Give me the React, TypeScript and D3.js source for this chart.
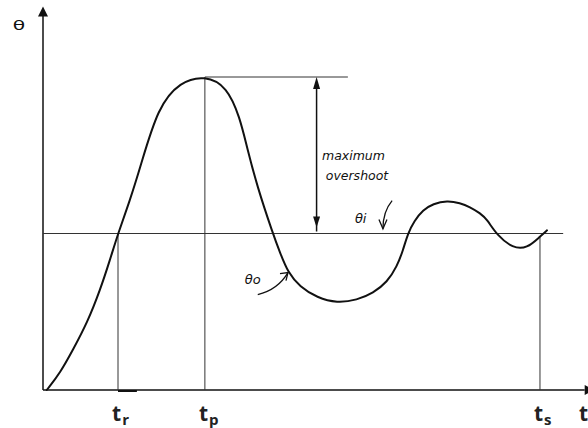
import React from 'react';
import * as d3 from 'd3';

// response curve (time units, theta in units of the step)
const timePoints = [0.07, 0.32, 0.56, 0.82, 1.06, 1.24, 1.39, 1.61, 1.8, 2.13, 2.54, 3.0, 3.41, 3.65, 3.78, 3.97, 4.26, 4.39, 4.54, 4.76, 5.08, 5.45, 5.82, 6.12, 6.38, 6.56, 6.67, 6.76, 6.88, 7.04, 7.23, 7.49, 7.73, 7.91, 8.1, 8.23, 8.41, 8.71, 8.97, 9.21, 9.34];
const responseValues = [0, 0.11, 0.26, 0.43, 0.64, 0.83, 1.0, 1.21, 1.42, 1.81, 1.97, 2.01, 1.94, 1.74, 1.55, 1.3, 1.0, 0.88, 0.75, 0.66, 0.59, 0.555, 0.575, 0.62, 0.69, 0.79, 0.89, 1.0, 1.08, 1.15, 1.19, 1.21, 1.195, 1.17, 1.13, 1.09, 0.99, 0.905, 0.905, 0.98, 1.02];

const markerNames = ['r', 'p', 's'];
const markerTimes = [1.39, 3.0, 9.21];
const markerTops = [1, 2, 0.98];

const steadyValue = 1;
const peakValue = 2;
const steadyEnd = 9.64;
const peakLineEnd = 5.65;
const overshootAt = 5.07;

const W = 588;
const H = 428;

export default function App() {
  const x = d3.scaleLinear().domain([0, 10.1]).range([43, 588]);
  const y = d3.scaleLinear().domain([0, 2]).range([390, 77]);

  const pts: [number, number][] = timePoints.map((t, i) => [t, responseValues[i]]);
  const line = d3.line<[number, number]>()
    .x(d => x(d[0]))
    .y(d => y(d[1]))
    .curve(d3.curveBasis);

  const ink = '#111';
  const thin = '#333';
  const hand = "'DejaVu Sans', sans-serif";
  const label = "'Open Sans', sans-serif";

  const x0 = x(0);
  const y0 = y(0);
  const yTop = y(2.45);
  const xRight = x(10.15);

  const oa = x(overshootAt);

  // curved annotation arrows
  const thetaIArrow = d3.path();
  thetaIArrow.moveTo(x(6.47), y(1.21));
  thetaIArrow.quadraticCurveTo(x(6.3), y(1.14), x(6.3), y(1.03));
  const thetaOArrow = d3.path();
  thetaOArrow.moveTo(x(3.98), y(0.61));
  thetaOArrow.quadraticCurveTo(x(4.35), y(0.64), x(4.54), y(0.75));

  return (
    <div style={{ position: 'fixed', left: 0, top: 0 }}>
      <svg width={W} height={H} style={{ display: 'block', background: '#fff' }}>
        {/* axes */}
        <line x1={x0} y1={y0} x2={x0} y2={yTop + 8} stroke={ink} strokeWidth={1.5} />
        <path d={`M${x0},${yTop} L${x0 - 5},${yTop + 10} L${x0 + 5},${yTop + 10} Z`} fill={ink} />
        <line x1={x0} y1={y0} x2={xRight - 6} y2={y0} stroke={ink} strokeWidth={1.5} />
        <path d={`M${xRight + 4},${y0} L${xRight - 6},${y0 - 5} L${xRight - 6},${y0 + 5} Z`} fill={ink} />
        <text x={19} y={31} fontFamily={hand} fontSize={15} textAnchor="middle" fill={ink}
          transform="translate(19,26) scale(1.35,0.85) translate(-19,-26)">θ</text>

        {/* steady state and peak reference lines */}
        <line x1={x0} y1={y(steadyValue)} x2={x(steadyEnd)} y2={y(steadyValue)} stroke={thin} strokeWidth={1} />
        <line x1={x(markerTimes[1])} y1={y(peakValue)} x2={x(peakLineEnd)} y2={y(peakValue)} stroke={thin} strokeWidth={1} />

        {/* time markers */}
        {markerTimes.map((t, i) => (
          <g key={markerNames[i]}>
            <line x1={x(t)} y1={y(markerTops[i])} x2={x(t)} y2={y0} stroke={thin} strokeWidth={1} />
            <text x={x(t) - 6} y={421} fontFamily={label} fontWeight={700} fontSize={21} fill="#222">
              t<tspan fontSize={15} dy={4} dx={1}>{markerNames[i]}</tspan>
            </text>
          </g>
        ))}
        <line x1={x(markerTimes[0])} y1={y0 + 1} x2={x(1.74)} y2={y0 + 1} stroke={ink} strokeWidth={2} />
        <text x={579} y={421} fontFamily={label} fontWeight={700} fontSize={21} fill="#222">t</text>

        {/* maximum overshoot */}
        <line x1={oa} y1={y(peakValue) + 8} x2={oa} y2={y(steadyValue) - 2} stroke={ink} strokeWidth={1.5} />
        <path d={`M${oa},${y(peakValue)} L${oa - 3.5},${y(peakValue) + 12} L${oa + 3.5},${y(peakValue) + 12} Z`} fill={ink} />
        <path d={`M${oa},${y(steadyValue) - 6} L${oa - 3.5},${y(steadyValue) - 17} L${oa + 3.5},${y(steadyValue) - 17} Z`} fill={ink} />
        <text x={x(5.17)} y={y(1.47)} fontFamily={hand} fontStyle="italic" fontSize={12.5} fill={ink}>maximum</text>
        <text x={x(5.24)} y={y(1.34)} fontFamily={hand} fontStyle="italic" fontSize={12.5} fill={ink}>overshoot</text>

        {/* input / output annotations */}
        <text x={x(5.78)} y={y(1.07)} fontFamily={hand} fontStyle="italic" fontSize={13} fill={ink}>θi</text>
        <path d={thetaIArrow.toString()} fill="none" stroke={ink} strokeWidth={1.3} />
        <path d={`M${x(6.3) - 4},${y(1.09)} L${x(6.3)},${y(1.03)} L${x(6.3) + 4},${y(1.09)}`} fill="none" stroke={ink} strokeWidth={1.3} />
        <text x={x(3.74)} y={y(0.68)} fontFamily={hand} fontStyle="italic" fontSize={13} fill={ink}>θo</text>
        <path d={thetaOArrow.toString()} fill="none" stroke={ink} strokeWidth={1.3} />
        <path d={`M${x(4.54) - 8},${y(0.75) + 1} L${x(4.54)},${y(0.75)} L${x(4.54) - 2},${y(0.75) + 8}`} fill="none" stroke={ink} strokeWidth={1.3} />

        {/* response */}
        <path d={line(pts) ?? ''} fill="none" stroke={ink} strokeWidth={2} strokeLinejoin="round" strokeLinecap="round" />
      </svg>
    </div>
  );
}
